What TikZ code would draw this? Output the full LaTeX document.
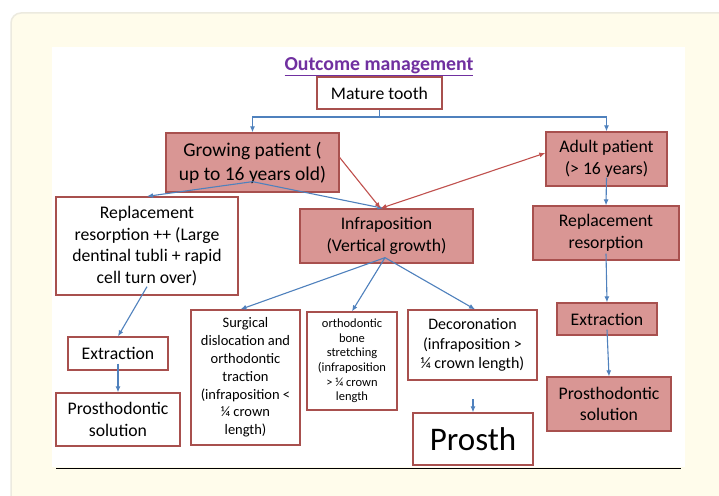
\documentclass[tikz,border=0pt]{standalone}
\usepackage{fontspec}
\setmainfont{Carlito}
\usetikzlibrary{arrows.meta}
\definecolor{boxfill}{HTML}{D99694}
\definecolor{boxedge}{HTML}{A8504E}
\definecolor{arrowblue}{HTML}{4F81BD}
\definecolor{arrowred}{HTML}{C0504D}
\definecolor{titlepurple}{HTML}{7030A0}
\definecolor{cream}{HTML}{FFFCEB}
\definecolor{creamedge}{HTML}{ECEADF}

\begin{document}
\begin{tikzpicture}[x=1pt,y=-1pt,>={Latex[length=6pt,width=5pt]},
    box/.style={draw=boxedge,line width=1.3pt,inner sep=0pt,align=center,font=\fontsize{17.7}{21.6}\selectfont},
    pinkbox/.style={box,fill=boxfill},
    plainbox/.style={box,fill=white},
    bluearrow/.style={draw=arrowblue,line width=1.1pt,->},
    redarrow/.style={draw=arrowred,line width=1.1pt,->}]
            \useasboundingbox (0,0) rectangle (719,495);
            \fill[white] (0,0) rectangle (719,495);
            \draw[creamedge,line width=1.5pt,fill=cream,rounded corners=10pt] (11,13) rectangle (740,520);
            \fill[white] (52,47) rectangle (685,467);
            \draw[line width=1pt] (56,468)--(681,468);
            % title and top level
            \node[font=\bfseries\fontsize{19.8}{23}\selectfont,text=titlepurple] (title) at (379,67) {\color{titlepurple}\underline{Outcome management}};
            \node[plainbox,minimum width=125pt,minimum height=32pt] (mature) at (379.5,93) {Mature tooth};
            \node[pinkbox,minimum width=173pt,minimum height=59pt,font=\fontsize{19.5}{24}\selectfont] (growing) at (252.5,162.5) {Growing patient (\\ up to 16 years old)};
            \node[pinkbox,minimum width=121pt,minimum height=54pt] (adult) at (606.5,159) {Adult patient\\(> 16 years)};
            % growing patient branch
            \node[plainbox,minimum width=182pt,minimum height=98pt] (resorpL) at (147,246) {Replacement\\resorption ++ (Large\\dentinal tubli + rapid\\cell turn over)};
            \node[plainbox,minimum width=100pt,minimum height=33pt] (extractL) at (118,353.5) {Extraction};
            \node[plainbox,minimum width=124pt,minimum height=53pt] (prosthL) at (118,419.5) {Prosthodontic\\solution};
            \node[pinkbox,minimum width=173pt,minimum height=54pt] (infra) at (386.5,236) {Infraposition\\(Vertical growth)};
            \node[plainbox,minimum width=109pt,minimum height=135pt,font=\fontsize{14.5}{17.8}\selectfont] (surgical) at (245.5,377.5) {Surgical\\dislocation and\\orthodontic\\traction\\(infraposition <\\¼ crown\\length)};
            \node[plainbox,minimum width=90pt,minimum height=98pt,font=\fontsize{12.5}{14.6}\selectfont] (ortho) at (352,361) {orthodontic\\bone\\stretching\\(infraposition\\> ¼ crown\\length};
            \node[plainbox,minimum width=129pt,minimum height=70pt,font=\fontsize{16}{19.5}\selectfont] (decor) at (472.5,345) {Decoronation\\(infraposition >\\¼ crown length)};
            \node[plainbox,minimum width=120pt,minimum height=52pt,font=\fontsize{33}{38}\selectfont] (prosth) at (473,439) {Prosth};
            % adult patient branch
            \node[pinkbox,minimum width=146pt,minimum height=54pt] (resorpR) at (606,233) {Replacement\\resorption};
            \node[pinkbox,minimum width=100pt,minimum height=32pt] (extractR) at (607,319) {Extraction};
            \node[pinkbox,minimum width=124pt,minimum height=54pt] (prosthR) at (609,404) {Prosthodontic\\solution};
            % connectors
            \coordinate (split) at (379.5,117);
            \coordinate (stub) at (473,399);
            \draw[draw=arrowblue,line width=1.1pt] (mature.south)--(split);
            \draw[bluearrow] (split) -| (growing.north);
            \draw[bluearrow] (split) -| (adult.north);
            \draw[bluearrow] ([yshift=11pt]growing.south)--(resorpL.north);
            \draw[bluearrow] ([yshift=11pt]growing.south)--([xshift=-3pt]infra.north);
            \draw[redarrow] ([yshift=5pt]growing.east)--([xshift=-6pt]infra.north);
            \draw[redarrow,<->] ([xshift=-6pt]infra.north)--([yshift=6pt]adult.west);
            \draw[bluearrow] ([yshift=9pt]resorpL.south)--(extractL.north);
            \draw[bluearrow] ([yshift=7pt]extractL.south)--(prosthL.north);
            \draw[bluearrow] ([xshift=-1.5pt,yshift=6pt]infra.south)--([xshift=-5pt]surgical.north);
            \draw[bluearrow] ([xshift=-1.5pt,yshift=6pt]infra.south)--(ortho.north);
            \draw[bluearrow] ([xshift=-1.5pt,yshift=6pt]infra.south)--([xshift=2.5pt]decor.north);
            \draw[bluearrow] (stub)--(prosth.north);
            \draw[bluearrow] ([yshift=9pt]adult.south)--(resorpR.north);
            \draw[bluearrow] ([yshift=7pt]resorpR.south)--(extractR.north);
            \draw[bluearrow] ([yshift=6pt]extractR.south)--(prosthR.north);
        \end{tikzpicture}
\end{document}
